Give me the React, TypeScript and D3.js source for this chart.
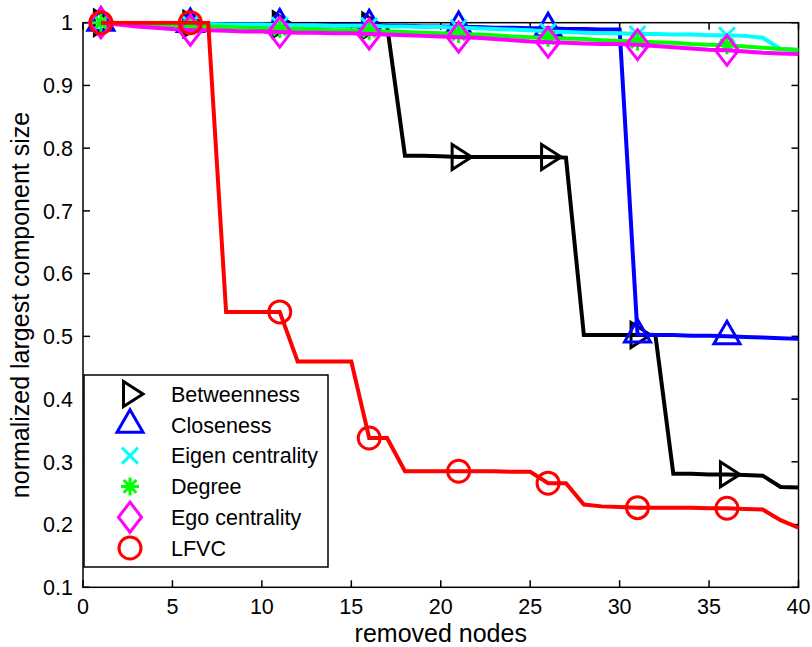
import React from 'react';
import * as d3 from 'd3';

const nodes = [1, 2, 3, 4, 5, 6, 7, 8, 9, 10, 11, 12, 13, 14, 15, 16, 17, 18, 19, 20, 21, 22, 23, 24, 25, 26, 27, 28, 29, 30, 31, 32, 33, 34, 35, 36, 37, 38, 39, 40];

const betweenness = [1.0, 0.998, 0.998, 0.998, 0.998, 0.998, 0.997, 0.997, 0.997, 0.997, 0.997, 0.996, 0.996, 0.996, 0.995, 0.995, 0.995, 0.788, 0.788, 0.787, 0.786, 0.786, 0.786, 0.786, 0.786, 0.786, 0.785, 0.502, 0.502, 0.502, 0.502, 0.502, 0.281, 0.281, 0.280, 0.280, 0.279, 0.278, 0.260, 0.259];
const closeness = [1.0, 0.999, 0.999, 0.998, 0.998, 0.998, 0.998, 0.997, 0.997, 0.997, 0.997, 0.996, 0.996, 0.996, 0.996, 0.996, 0.995, 0.995, 0.994, 0.994, 0.993, 0.993, 0.992, 0.992, 0.991, 0.991, 0.990, 0.990, 0.989, 0.989, 0.503, 0.502, 0.502, 0.501, 0.501, 0.500, 0.499, 0.498, 0.497, 0.496];
const eigen = [1.0, 0.999, 0.999, 0.998, 0.998, 0.998, 0.998, 0.997, 0.997, 0.997, 0.996, 0.996, 0.996, 0.995, 0.995, 0.995, 0.994, 0.994, 0.993, 0.993, 0.992, 0.991, 0.990, 0.989, 0.988, 0.986, 0.985, 0.984, 0.983, 0.983, 0.982, 0.982, 0.981, 0.981, 0.980, 0.980, 0.979, 0.976, 0.958, 0.956];
const degree = [1.0, 0.999, 0.998, 0.997, 0.996, 0.995, 0.994, 0.993, 0.992, 0.991, 0.990, 0.990, 0.989, 0.988, 0.988, 0.987, 0.986, 0.985, 0.984, 0.983, 0.982, 0.981, 0.980, 0.978, 0.977, 0.976, 0.975, 0.974, 0.972, 0.971, 0.970, 0.969, 0.968, 0.966, 0.965, 0.964, 0.962, 0.960, 0.958, 0.957];
const ego = [1.0, 0.997, 0.994, 0.992, 0.990, 0.988, 0.988, 0.987, 0.986, 0.986, 0.985, 0.984, 0.984, 0.983, 0.983, 0.982, 0.981, 0.980, 0.979, 0.978, 0.977, 0.976, 0.974, 0.972, 0.970, 0.969, 0.968, 0.967, 0.966, 0.966, 0.965, 0.963, 0.961, 0.959, 0.957, 0.956, 0.954, 0.952, 0.951, 0.950];
const lfvc = [1.0, 1.0, 1.0, 1.0, 1.0, 1.0, 1.0, 0.539, 0.539, 0.539, 0.539, 0.460, 0.460, 0.460, 0.460, 0.338, 0.338, 0.285, 0.285, 0.285, 0.285, 0.285, 0.285, 0.284, 0.284, 0.266, 0.266, 0.232, 0.229, 0.228, 0.227, 0.227, 0.227, 0.227, 0.226, 0.226, 0.225, 0.224, 0.207, 0.195];

const markerNodes = [1, 6, 11, 16, 21, 26, 31, 36];

const seriesNames = ['Betweenness', 'Closeness', 'Eigen centrality', 'Degree', 'Ego centrality', 'LFVC'];
const seriesValues = [betweenness, closeness, eigen, degree, ego, lfvc];
const seriesColors = ['#000000', '#0000ff', '#00ffff', '#00ff00', '#ff00ff', '#ff0000'];
const seriesMarkers = ['triRight', 'triUp', 'x', 'star', 'diamond', 'circle'];

const xTicks = [0, 5, 10, 15, 20, 25, 30, 35, 40];
const yTicks = [0.1, 0.2, 0.3, 0.4, 0.5, 0.6, 0.7, 0.8, 0.9, 1];
const yTickLabels = ['0.1', '0.2', '0.3', '0.4', '0.5', '0.6', '0.7', '0.8', '0.9', '1'];

const FONT = '"Liberation Sans", Arial, Helvetica, sans-serif';

function markerPath(kind: string): string {
  switch (kind) {
    case 'triRight':
      return 'M-6.5,-12.5L-6.5,12.5L13,0Z';
    case 'triUp':
      return 'M-13,7.5L13,7.5L0,-15Z';
    case 'x':
      return 'M-8,-8L8,8M-8,8L8,-8';
    case 'star':
      return 'M-9,0L9,0M0,-9L0,9M-6.4,-6.4L6.4,6.4M-6.4,6.4L6.4,-6.4';
    case 'diamond':
      return 'M0,-15L11.5,0L0,15L-11.5,0Z';
    case 'circle':
    default:
      return 'M-11,0A11,11 0 1,0 11,0A11,11 0 1,0 -11,0Z';
  }
}

export default function App() {
  const W = 812;
  const H = 647;
  const x = d3.scaleLinear().domain([0, 40]).range([83, 798.5]);
  const y = d3.scaleLinear().domain([0.1, 1]).range([587.3, 22.7]);
  const [x0, x1] = x.range();
  const [y0, y1] = y.range();
  const tickLen = 7;

  const line = d3
    .line<number>()
    .x((_, i) => x(nodes[i]))
    .y((d) => y(d));

  const legend = { x: 84, y: 375, w: 244, h: 192, rowY0: 394, rowStep: 30.8, markerX: 130, textX: 171 };

  return (
    <svg
      width={W}
      height={H}
      style={{ position: 'absolute', left: 0, top: 0, background: '#fff' }}
      fontFamily={FONT}
    >
      <rect x={0} y={0} width={W} height={H} fill="#fff" />
      <defs>
        <clipPath id="plotClip">
          <rect x={x0} y={y1 - 2} width={x1 - x0} height={y0 - y1 + 2} />
        </clipPath>
      </defs>

      {/* axes box */}
      <g stroke="#000" strokeWidth={1.5} fill="none">
        <rect x={x0} y={y1} width={x1 - x0} height={y0 - y1} />
        {xTicks.map((t) => (
          <g key={'xt' + t}>
            <line x1={x(t)} x2={x(t)} y1={y0} y2={y0 - tickLen} />
            <line x1={x(t)} x2={x(t)} y1={y1} y2={y1 + tickLen} />
          </g>
        ))}
        {yTicks.map((t) => (
          <g key={'yt' + t}>
            <line x1={x0} x2={x0 + tickLen} y1={y(t)} y2={y(t)} />
            <line x1={x1} x2={x1 - tickLen} y1={y(t)} y2={y(t)} />
          </g>
        ))}
      </g>

      {/* tick labels */}
      <g fontSize={21.5} fill="#000">
        {xTicks.map((t) => (
          <text key={'xl' + t} x={x(t)} y={614} textAnchor="middle">
            {t}
          </text>
        ))}
        {yTicks.map((t, i) => (
          <text key={'yl' + t} x={73} y={y(t) + 7.7} textAnchor="end">
            {yTickLabels[i]}
          </text>
        ))}
      </g>

      {/* axis labels */}
      <text x={(x0 + x1) / 2} y={641.5} textAnchor="middle" fontSize={25} fill="#000">
        removed nodes
      </text>
      <text
        transform={`translate(29,${(y0 + y1) / 2}) rotate(-90)`}
        textAnchor="middle"
        fontSize={25}
        fill="#000"
      >
        normalized largest component size
      </text>

      {/* series */}
      {seriesValues.map((vals, si) => (
        <g key={'s' + si}>
          <path
            d={line(vals) || ''}
            fill="none"
            stroke={seriesColors[si]}
            strokeWidth={4}
            strokeLinejoin="miter"
            clipPath="url(#plotClip)"
          />
          {markerNodes.map((n) => (
            <path
              key={'m' + si + '-' + n}
              d={markerPath(seriesMarkers[si])}
              transform={`translate(${x(n)},${y(vals[n - 1])})`}
              fill="none"
              stroke={seriesColors[si]}
              strokeWidth={3}
            />
          ))}
        </g>
      ))}

      {/* legend */}
      <g>
        <rect x={legend.x} y={legend.y} width={legend.w} height={legend.h} fill="#fff" stroke="#000" strokeWidth={1.5} />
        {seriesNames.map((name, i) => {
          const ry = legend.rowY0 + i * legend.rowStep;
          return (
            <g key={'lg' + i}>
              <path
                d={markerPath(seriesMarkers[i])}
                transform={`translate(${legend.markerX},${ry})`}
                fill="none"
                stroke={seriesColors[i]}
                strokeWidth={3}
              />
              <text x={legend.textX} y={ry + 7.7} fontSize={21.5} fill="#000">
                {name}
              </text>
            </g>
          );
        })}
      </g>
    </svg>
  );
}
